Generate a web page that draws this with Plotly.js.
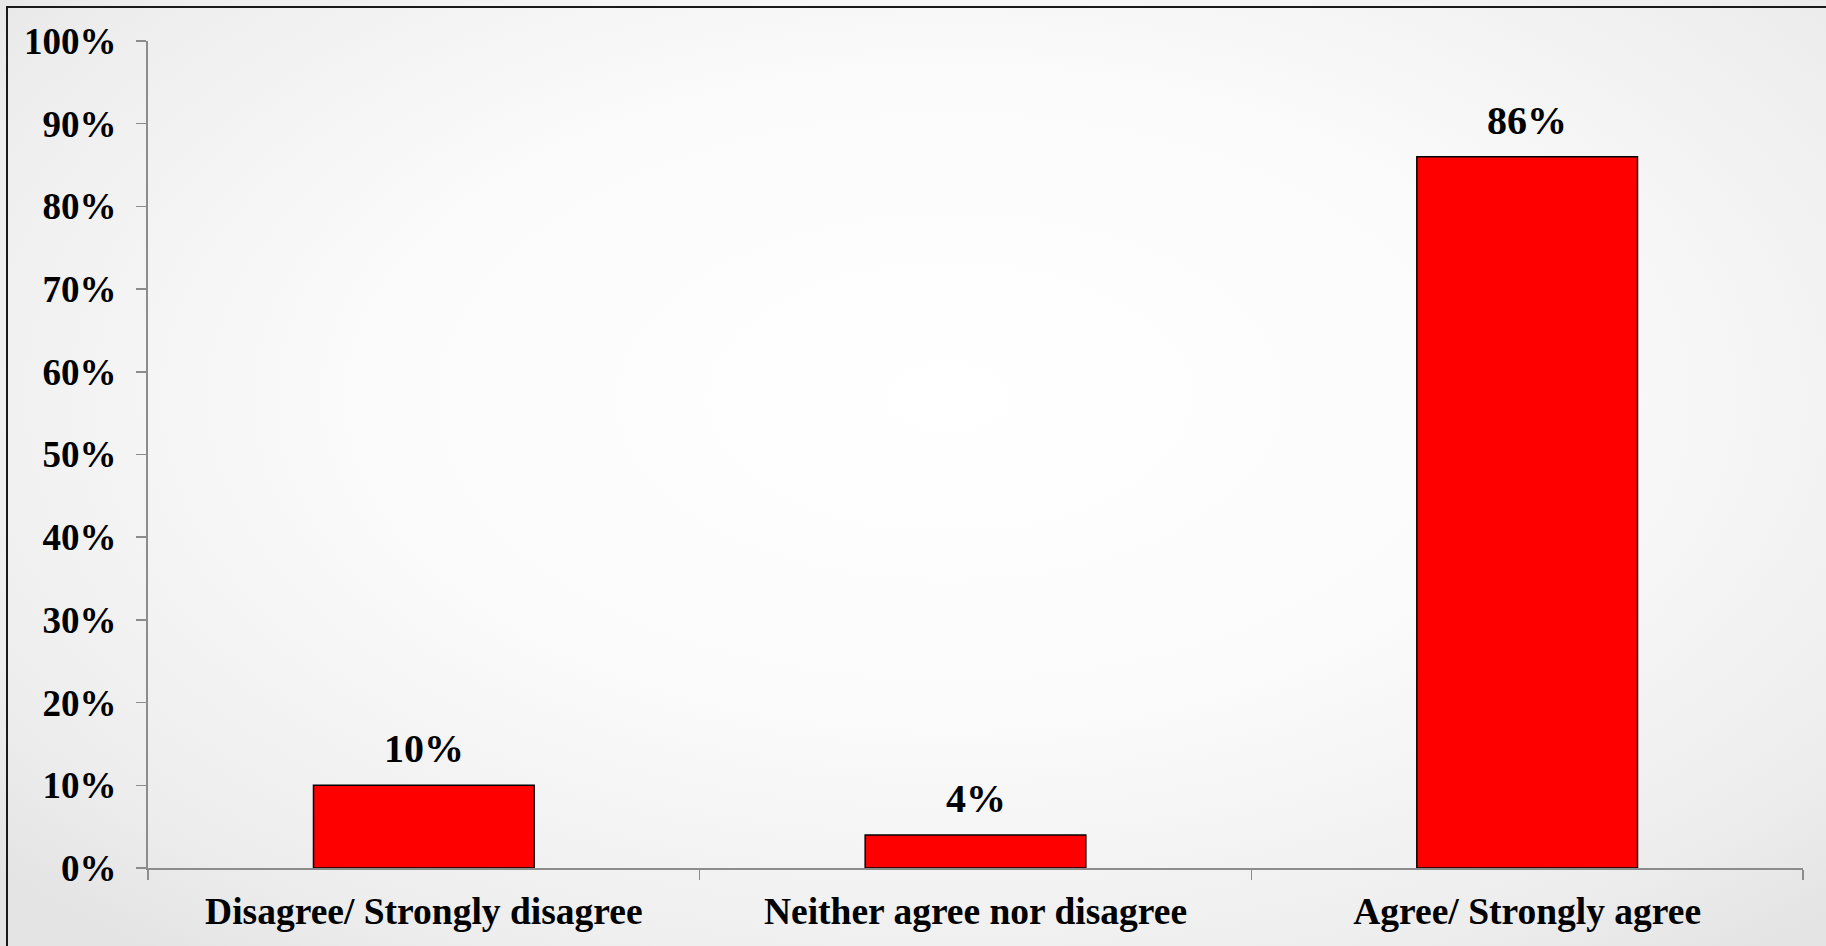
<!DOCTYPE html>
<html>
<head>
<meta charset="utf-8">
<script src="https://cdn.plot.ly/plotly-3.0.1.min.js"></script>
<style>
  html, body { margin: 0; padding: 0; width: 1826px; height: 946px; overflow: hidden; }
  body { background: radial-gradient(ellipse 70% 75% at 52% 42%, #ffffff 0%, #fbfbfb 45%, #ededed 85%, #e4e4e4 100%); }
  #frame { position: absolute; left: 6px; top: 6px; width: 1830px; height: 950px;
           border-left: 2px solid #1a1a1a; border-top: 2px solid #1a1a1a; }
  #chart { position: absolute; left: 0; top: 0; width: 1826px; height: 946px; }
</style>
</head>
<body>
<div id="frame"></div>
<div id="chart"></div>
<script>
const categories = ["Disagree/ Strongly disagree", "Neither agree nor disagree", "Agree/ Strongly agree"];
const values = [10, 4, 86];
const valueLabels = ["10%", "4%", "86%"];
const yTickValues = [0, 10, 20, 30, 40, 50, 60, 70, 80, 90, 100];
const yTickLabels = ["0%", "10%", "20%", "30%", "40%", "50%", "60%", "70%", "80%", "90%", "100%"];

const fontFamily = '"Liberation Serif", "Times New Roman", serif';

const trace = {
  type: 'bar',
  x: categories,
  y: values,
  width: 0.4,
  marker: { color: '#ff0000', line: { color: '#000000', width: 1.5 } },
  hoverinfo: 'skip'
};

const annotations = categories.map((c, i) => ({
  x: c, y: values[i], xref: 'x', yref: 'y',
  text: '<b>' + valueLabels[i] + '</b>',
  showarrow: false, yanchor: 'bottom', yshift: 12,
  font: { family: fontFamily, size: 40, color: '#000000' }
}));

const layout = {
  width: 1826, height: 946,
  margin: { l: 148, r: 23, t: 41, b: 78, pad: 0 },
  paper_bgcolor: 'rgba(0,0,0,0)',
  plot_bgcolor: 'rgba(0,0,0,0)',
  showlegend: false,
  bargap: 0.6,
  xaxis: {
    type: 'category',
    tickson: 'boundaries',
    ticks: 'outside', ticklen: 10, tickwidth: 1.5, tickcolor: '#8c8c8c',
    showline: true, linecolor: '#8c8c8c', linewidth: 2,
    showgrid: false, zeroline: false,
    ticklabelstandoff: 9,
    tickfont: { family: fontFamily, size: 37.5, color: '#000000', weight: 'bold' }
  },
  yaxis: {
    range: [0, 100],
    tickmode: 'array',
    tickvals: yTickValues,
    ticktext: yTickLabels,
    ticks: 'outside', ticklen: 10, tickwidth: 1.5, tickcolor: '#8c8c8c',
    showline: true, linecolor: '#8c8c8c', linewidth: 2,
    showgrid: false, zeroline: false,
    ticklabelstandoff: 12,
    tickfont: { family: fontFamily, size: 37, color: '#000000', weight: 'bold' }
  },
  annotations: annotations
};

Plotly.newPlot('chart', [trace], layout, { displayModeBar: false, staticPlot: true });
</script>
</body>
</html>
